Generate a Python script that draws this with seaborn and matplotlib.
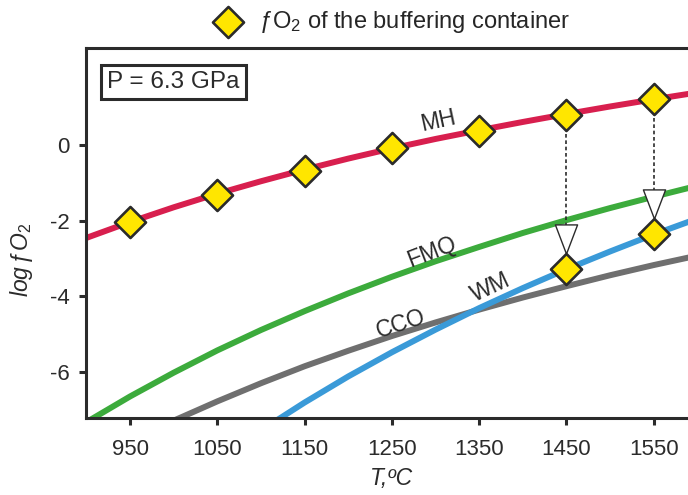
import numpy as np
import pandas as pd
import matplotlib
matplotlib.use('Agg')
import matplotlib.pyplot as plt
import matplotlib.transforms as mtransforms
from matplotlib.path import Path
import seaborn as sns

# buffer curves, log fO2 (P = 6.3 GPa)
temps = [900, 950, 1000, 1050, 1100, 1150, 1200, 1250, 1300, 1350, 1400, 1450, 1500, 1550, 1600]
mh = [-2.46, -2.04, -1.65, -1.29, -0.96, -0.65, -0.36, -0.09, 0.16, 0.39, 0.61, 0.82, 1.02, 1.21, 1.39]
fmq = [-7.34, -6.66, -6.03, -5.44, -4.90, -4.40, -3.93, -3.49, -3.08, -2.70, -2.33, -1.99, -1.67, -1.37, -1.08]
cco = [np.nan, np.nan, -7.30, -6.79, -6.31, -5.86, -5.45, -5.06, -4.70, -4.36, -4.04, -3.74, -3.45, -3.18, -2.93]
wm = [np.nan, np.nan, np.nan, np.nan, -7.56, -6.82, -6.13, -5.49, -4.89, -4.32, -3.79, -3.29, -2.82, -2.37, -1.95]

# fO2 of the buffering container
container_T = [950, 1050, 1150, 1250, 1350, 1450, 1550]
container_fo2 = [-2.04, -1.32, -0.68, -0.09, 0.38, 0.80, 1.21]
buffered_T = [1450, 1550]
buffered_fo2 = [-3.29, -2.37]

colors = {'MH': '#d81f4e', 'FMQ': '#3cab3c', 'CCO': '#6f6f6f', 'WM': '#3a9ad8'}
dark = '#2b2b2b'

curves = pd.concat([
    pd.DataFrame({'T': temps, 'logfo2': vals, 'buffer': name})
    for name, vals in [('MH', mh), ('FMQ', fmq), ('CCO', cco), ('WM', wm)]
]).dropna()

sns.set_style('ticks')
plt.rcParams['font.family'] = ['Liberation Sans', 'DejaVu Sans']
plt.rcParams['mathtext.fontset'] = 'custom'
plt.rcParams['mathtext.rm'] = 'Liberation Sans'
plt.rcParams['mathtext.it'] = 'Liberation Sans:italic'

fig = plt.figure(figsize=(6.88, 4.95), dpi=100)
ax = fig.add_axes([0.1256, 0.1556, 0.888, 0.7475])

sns.lineplot(data=curves, x='T', y='logfo2', hue='buffer', palette=colors,
             linewidth=4.3, sort=False, estimator=None, legend=False, ax=ax, zorder=2)

# dashed drop lines from container to buffered value
for t, top, bot in zip(buffered_T, container_fo2[-2:], buffered_fo2):
    ax.plot([t, t], [top, bot], color=dark, lw=1.2, ls=(0, (2.2, 1.6)), zorder=3)

# open arrow heads sitting on the buffered points
tri = Path([(-0.38, 0.5), (0.38, 0.5), (0, -0.5), (-0.38, 0.5)],
           [Path.MOVETO, Path.LINETO, Path.LINETO, Path.CLOSEPOLY])
off = mtransforms.offset_copy(ax.transData, fig=fig, x=0, y=22, units='points')
ax.plot(buffered_T, buffered_fo2, ls='none', marker=tri, ms=21, mfc='white',
        mec=dark, mew=1.0, transform=off, zorder=4)

sns.scatterplot(x=container_T, y=container_fo2, marker='D', s=250, color='#ffe600',
                edgecolor=dark, linewidth=1.9, zorder=5, ax=ax,
                label='ƒO$_\\mathrm{2}$ of the buffering container')
sns.scatterplot(x=buffered_T, y=buffered_fo2, marker='D', s=250, color='#ffe600',
                edgecolor=dark, linewidth=1.9, zorder=5, ax=ax)

# curve names
ax.text(1303, 0.63, 'MH', fontsize=16.5, rotation=12, ha='center', va='center', color=dark)
ax.text(1296, -2.83, 'FMQ', fontsize=16.5, rotation=21, ha='center', va='center', color=dark)
ax.text(1363, -3.78, 'WM', fontsize=16.5, rotation=25, ha='center', va='center', color=dark)
ax.text(1260, -4.74, 'CCO', fontsize=16.5, rotation=18, ha='center', va='center', color=dark)

ax.text(0.1426, 0.908, 'P = 6.3 GPa', transform=ax.transAxes, fontsize=17.5,
        ha='center', va='center', color=dark,
        bbox=dict(boxstyle='square,pad=0.25', fc='white', ec=dark, lw=2.2))

ax.set_xlim(900, 1600)
ax.set_ylim(-7.23, 2.57)
ax.set_xticks(container_T)
ax.set_yticks([0, -2, -4, -6])
ax.set_yticklabels(['0', '-2', '-4', '-6'])
ax.tick_params(axis='both', labelsize=16, width=2.2, length=5, color=dark, labelcolor=dark)
ax.tick_params(axis='x', pad=10)
ax.tick_params(axis='y', pad=7)
for sp in ax.spines.values():
    sp.set_linewidth(2.2)
    sp.set_color(dark)

ax.set_xlabel('T,ºC', fontsize=16.5, fontstyle='italic', color=dark, labelpad=5)
ax.set_ylabel(r'$log\,$ƒ$O_\mathrm{2}$', fontsize=16.5, color=dark)
ax.yaxis.set_label_coords(-0.084, 0.427)

ax.legend(loc='center', bbox_to_anchor=(0.5625, 0.9556), bbox_transform=fig.transFigure,
          frameon=False, fontsize=17, handletextpad=0.3, borderpad=0)

fig.savefig('out.png', dpi=100)
